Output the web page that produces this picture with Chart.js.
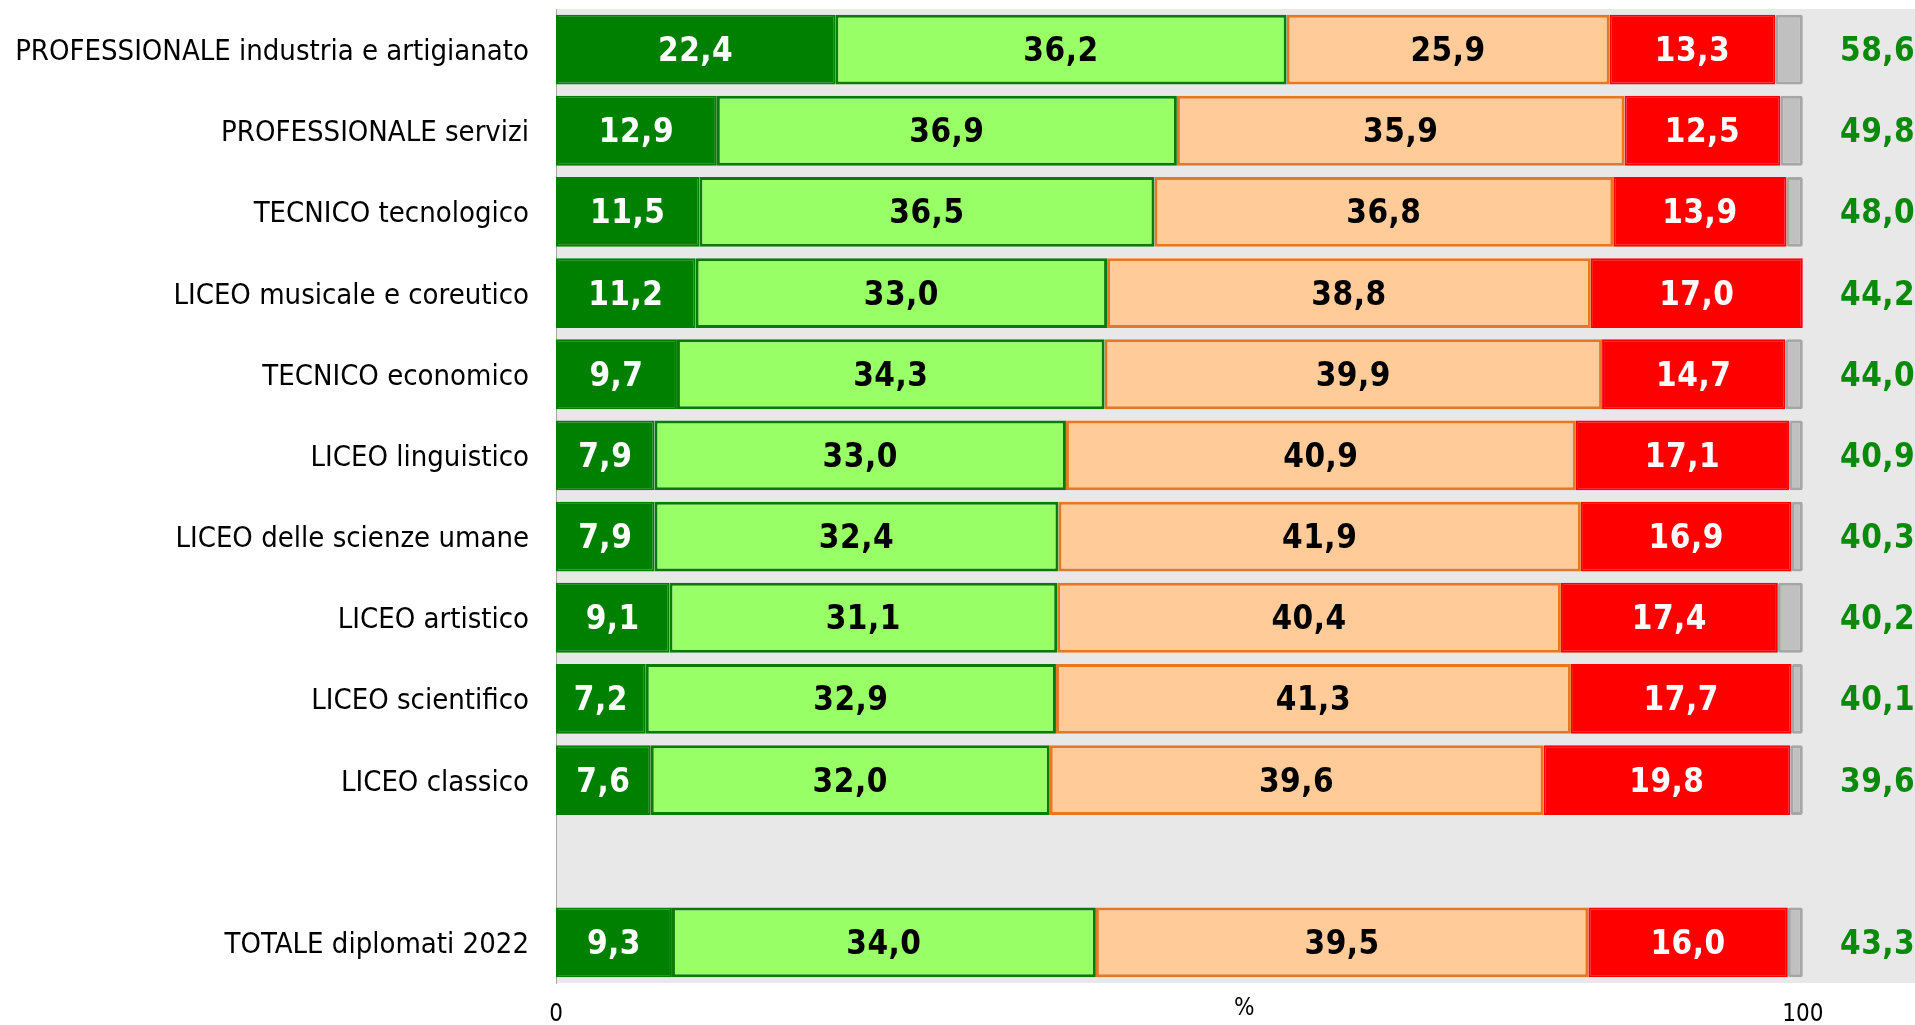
<!DOCTYPE html>
<html>
<head>
<meta charset="utf-8">
<script src="https://cdn.jsdelivr.net/npm/chart.js@4.4.1/dist/chart.umd.min.js"></script>
<style>
body { margin: 0; background: #fff; }
#wrap { width: 1915px; height: 1025px; }
</style>
</head>
<body>
<div id="wrap"><canvas id="grafico" width="1915" height="1025"></canvas></div>
<script>
// Dati (valori in %)
var categorie = [
    "PROFESSIONALE industria e artigianato",
    "PROFESSIONALE servizi",
    "TECNICO tecnologico",
    "LICEO musicale e coreutico",
    "TECNICO economico",
    "LICEO linguistico",
    "LICEO delle scienze umane",
    "LICEO artistico",
    "LICEO scientifico",
    "LICEO classico",
    "",
    "TOTALE diplomati 2022"
];
var decisamenteSi = [22.4, 12.9, 11.5, 11.2, 9.7, 7.9, 7.9, 9.1, 7.2, 7.6, null, 9.3];
var piuSiCheNo = [36.2, 36.9, 36.5, 33.0, 34.3, 33.0, 32.4, 31.1, 32.9, 32.0, null, 34.0];
var piuNoCheSi = [25.9, 35.9, 36.8, 38.8, 39.9, 40.9, 41.9, 40.4, 41.3, 39.6, null, 39.5];
var decisamenteNo = [13.3, 12.5, 13.9, 17.0, 14.7, 17.1, 16.9, 17.4, 17.7, 19.8, null, 16.0];
var nonRisponde = [2.2, 1.8, 1.3, 0, 1.4, 1.1, 0.9, 2.0, 0.9, 1.0, null, 1.2];
var totaleSi = [58.6, 49.8, 48.0, 44.2, 44.0, 40.9, 40.3, 40.2, 40.1, 39.6, null, 43.3];
var tickX = [0, 100];

var FONT = '"DejaVu Sans Condensed", "DejaVu Sans", sans-serif';

function formatta(v) {
    return v.toFixed(1).replace(".", ",");
}

//Sfondo area grafico
var sfondo = {
    id: "sfondo",
    beforeDraw(chart) {
        var a = chart.chartArea;
        chart.ctx.save();
        chart.ctx.fillStyle = "#e8e8e8";
        chart.ctx.fillRect(a.left, a.top, chart.width - a.left, a.bottom - a.top);
        chart.ctx.restore();
    }
};

//Etichette dei valori
var etichette = {
    id: "etichette",
    afterDatasetsDraw(chart) {
        var ctx = chart.ctx;
        var xs = chart.scales.x;
        var ys = chart.scales.y;
        ctx.save();
        ctx.font = "bold 33px " + FONT;
        ctx.letterSpacing = "0.5px";
        ctx.textAlign = "center";
        ctx.textBaseline = "middle";
        chart.data.datasets.forEach((ds, i) => {
            if (!ds.coloreTesto) return;
            chart.getDatasetMeta(i).data.forEach((bar, j) => {
                var v = ds.data[j];
                if (v == null) return;
                var p = bar.getProps(["x", "base", "y"], true);
                ctx.fillStyle = ds.coloreTesto;
                ctx.fillText(formatta(v), (p.x + p.base) / 2, p.y + 3);
            });
        });
        ctx.fillStyle = "#0a8a0a";
        totaleSi.forEach((v, j) => {
            if (v == null) return;
            ctx.fillText(formatta(v), xs.getPixelForValue(106), ys.getPixelForValue(j) + 3);
        });
        ctx.font = "24px " + FONT;
        ctx.letterSpacing = "0px";
        ctx.fillStyle = "#000";
        ctx.fillText("%", xs.getPixelForValue(55.2), chart.chartArea.bottom + 26);
        ctx.restore();
    }
};

var canvas = document.getElementById("grafico");
var myChart = new Chart(canvas, {
    type: "bar",
    data: {
        labels: categorie,
        datasets: [
            { label: "Decisamente sì", data: decisamenteSi, backgroundColor: "#008000", borderColor: "#008000", borderWidth: 2, coloreTesto: "#fff" },
            { label: "Più sì che no", data: piuSiCheNo, backgroundColor: "#99ff66", borderColor: "#0a7a0a", borderWidth: 3, coloreTesto: "#000" },
            { label: "Più no che sì", data: piuNoCheSi, backgroundColor: "#ffcc99", borderColor: "#e87722", borderWidth: 3, coloreTesto: "#000" },
            { label: "Decisamente no", data: decisamenteNo, backgroundColor: "#ff0000", borderColor: "#ff0000", borderWidth: 2, coloreTesto: "#fff" },
            { label: "Non risponde", data: nonRisponde, backgroundColor: "#c0c0c0", borderColor: "#a6a6a6", borderWidth: 3, borderRadius: 2 }
        ]
    },
    options: {
        indexAxis: "y",
        responsive: false,
        animation: false,
        barPercentage: 0.86,
        categoryPercentage: 1.0,
        layout: { padding: { top: 9, left: 0, right: 0, bottom: 0 } },
        elements: { bar: { borderSkipped: false } },
        plugins: {
            legend: { display: false },
            tooltip: { enabled: false }
        },
        scales: {
            x: {
                stacked: true,
                min: 0,
                max: 109,
                grid: { display: false, drawTicks: false },
                border: { display: false },
                afterBuildTicks: function (scale) {
                    scale.ticks = tickX.map(v => ({ value: v }));
                },
                afterFit: function (scale) {
                    scale.height = 42;
                    scale.paddingLeft = 0;
                    scale.paddingRight = 0;
                },
                ticks: {
                    padding: 17,
                    color: "#000",
                    font: { family: FONT, size: 24 },
                    maxRotation: 0,
                    autoSkip: false
                }
            },
            y: {
                stacked: true,
                grid: { display: false, drawTicks: false },
                border: { display: true, color: "#a8a8a8", width: 1 },
                afterFit: function (scale) {
                    scale.width = 556;
                    scale.paddingTop = 0;
                    scale.paddingBottom = 0;
                },
                ticks: {
                    padding: 27,
                    labelOffset: 3,
                    color: "#000",
                    font: { family: FONT, size: 29 },
                    autoSkip: false
                }
            }
        }
    },
    plugins: [sfondo, etichette]
});
</script>
</body>
</html>
